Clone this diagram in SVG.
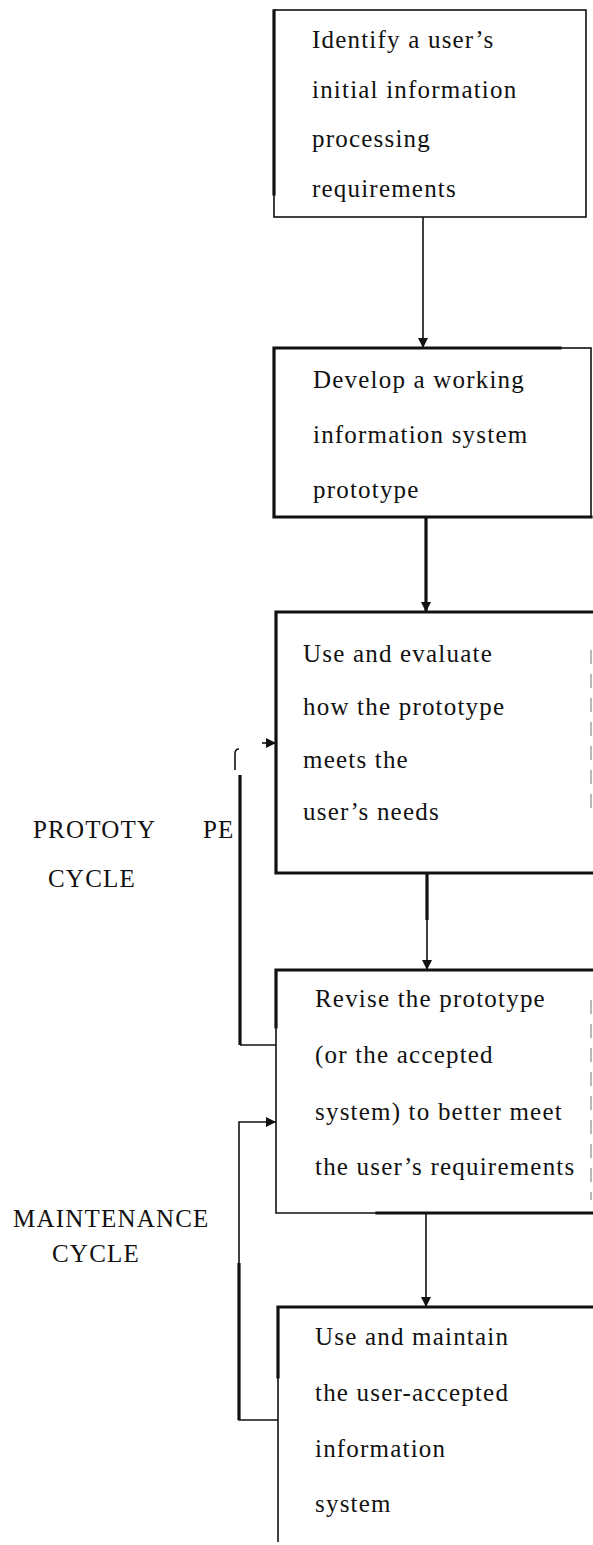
<svg xmlns="http://www.w3.org/2000/svg" width="593" height="1545" viewBox="0 0 593 1545">
  <style>
    .bg { fill: #ffffff; }
    .frame { fill: #ffffff; stroke: #111; stroke-width: 1.6; }
    .heavy { fill: none; stroke: #111; stroke-width: 3.2; stroke-linecap: square; }
    .faint { fill: none; stroke: #888; stroke-width: 1.2; stroke-dasharray: 14 10; }
    .lbl { font-family: "Liberation Serif", "Times New Roman", serif; font-size: 25px; letter-spacing: 1.2px; fill: #111; }
    .wire { fill: none; stroke: #111; stroke-width: 1.6; }
    .wire-heavy { fill: none; stroke: #111; stroke-width: 3.2; }
  </style>
  <defs>
    <marker id="head" viewBox="0 0 10 10" refX="10" refY="5" markerWidth="10" markerHeight="10" markerUnits="userSpaceOnUse" orient="auto">
      <path d="M0,0 L10,5 L0,10 Z" fill="#111"/>
    </marker>
  </defs>

  <rect class="bg" x="0" y="0" width="593" height="1545"/>

  <!-- step 1 -->
  <g id="identify">
    <rect class="frame" x="274" y="10" width="312" height="207"/>
    <path class="heavy" d="M274,11 V194"/>
    <text class="lbl" x="312" y="48">Identify a user’s</text>
    <text class="lbl" x="312" y="98">initial information</text>
    <text class="lbl" x="312" y="147">processing</text>
    <text class="lbl" x="312" y="197">requirements</text>
  </g>

  <!-- step 2 -->
  <g id="develop">
    <rect class="frame" x="274" y="348" width="317" height="169"/>
    <path class="heavy" d="M274,517 V348 H560 M274,517 H591"/>
    <text class="lbl" x="313" y="388">Develop a working</text>
    <text class="lbl" x="313" y="443">information system</text>
    <text class="lbl" x="313" y="498">prototype</text>
  </g>

  <!-- step 3 -->
  <g id="evaluate">
    <path class="heavy" d="M593,612 H276 V873 H593"/>
    <path class="faint" d="M591,650 V810"/>
    <text class="lbl" x="303" y="662">Use and evaluate</text>
    <text class="lbl" x="303" y="715">how the prototype</text>
    <text class="lbl" x="303" y="768">meets the</text>
    <text class="lbl" x="303" y="820">user’s needs</text>
  </g>

  <!-- step 4 -->
  <g id="revise">
    <path class="heavy" d="M593,970 H276 V1027"/>
    <path class="frame" fill="none" d="M276,1027 V1213 H377"/>
    <path class="heavy" d="M377,1213 H593"/>
    <path class="faint" d="M591,1000 V1200"/>
    <text class="lbl" x="315" y="1007">Revise the prototype</text>
    <text class="lbl" x="315" y="1063">(or the accepted</text>
    <text class="lbl" x="315" y="1120">system) to better meet</text>
    <text class="lbl" x="315" y="1175">the user’s requirements</text>
  </g>

  <!-- step 5 -->
  <g id="maintain">
    <path class="heavy" d="M593,1307 H278 V1377"/>
    <path class="frame" fill="none" d="M278,1377 V1542"/>
    <text class="lbl" x="315" y="1345">Use and maintain</text>
    <text class="lbl" x="315" y="1401">the user-accepted</text>
    <text class="lbl" x="315" y="1457">information</text>
    <text class="lbl" x="315" y="1512">system</text>
  </g>

  <!-- cycle labels -->
  <g id="prototype-cycle">
    <text class="lbl"><tspan x="33" y="838">PROTOTY</tspan><tspan x="203" y="838">PE</tspan></text>
    <text class="lbl" x="48" y="887">CYCLE</text>
  </g>
  <g id="maintenance-cycle">
    <text class="lbl" x="13" y="1227">MAINTENANCE</text>
    <text class="lbl" x="52" y="1262">CYCLE</text>
  </g>

  <!-- connectors -->
  <g id="connectors">
    <path class="wire" d="M423,217 V348" marker-end="url(#head)"/>
    <path class="wire-heavy" d="M426,517 V612" marker-end="url(#head)"/>
    <path class="wire-heavy" d="M427,873 V920"/>
    <path class="wire" d="M427,920 V970" marker-end="url(#head)"/>
    <path class="wire" d="M426,1213 V1307" marker-end="url(#head)"/>
    <!-- prototype feedback loop -->
    <path class="wire" d="M276,1045 H240"/>
    <path class="wire-heavy" d="M240,1045 V775"/>
    <path class="wire" d="M239,749 Q235,749 235,754 V770"/>
    <path class="wire" d="M262,743 H276" marker-end="url(#head)"/>
    <!-- maintenance feedback loop -->
    <path class="wire" d="M278,1420 H239 V1263"/>
    <path class="wire-heavy" d="M239,1420 V1263"/>
    <path class="wire" d="M239,1263 V1122 H276" marker-end="url(#head)"/>
  </g>
</svg>
